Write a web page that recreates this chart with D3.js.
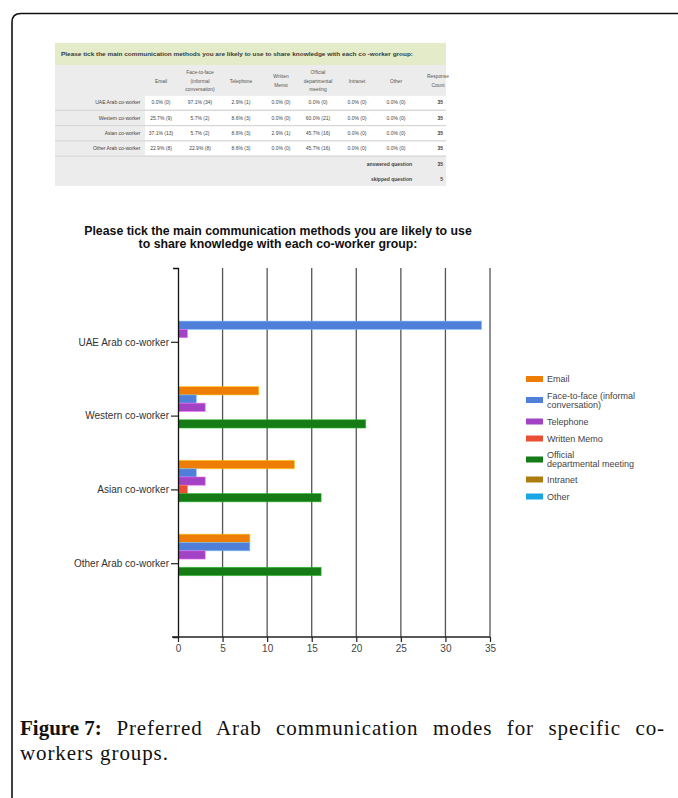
<!DOCTYPE html>
<html>
<head>
<meta charset="utf-8">
<script src="https://cdn.jsdelivr.net/npm/d3@7"></script>
<style>
  html, body { margin: 0; padding: 0; background: #fff; }
  svg { display: block; }
</style>
</head>
<body>
<svg id="chart" width="678" height="798"></svg>
<script>
// ---------------- DATA ----------------
const categories = ["UAE Arab co-worker", "Western co-worker", "Asian co-worker", "Other Arab co-worker"];
const seriesNames = ["Email", "Face-to-face (informal conversation)", "Telephone", "Written Memo",
                     "Official departmental meeting", "Intranet", "Other"];
const legendLines = [["Email"], ["Face-to-face (informal", "conversation)"], ["Telephone"], ["Written Memo"],
                     ["Official", "departmental meeting"], ["Intranet"], ["Other"]];
const tableHeaders = [["Email"], ["Face-to-face", "(informal", "conversation)"], ["Telephone"], ["Written", "Memo"],
                      ["Official", "departmental", "meeting"], ["Intranet"], ["Other"], ["Response", "Count"]];
const emailValues      = [0, 9, 13, 8];
const faceToFaceValues = [34, 2, 2, 8];
const telephoneValues  = [1, 3, 3, 3];
const memoValues       = [0, 0, 1, 0];
const officialValues   = [0, 21, 16, 16];
const intranetValues   = [0, 0, 0, 0];
const otherValues      = [0, 0, 0, 0];
const responseCounts   = [35, 35, 35, 35];
const answeredQuestion = 35;
const skippedQuestion  = 5;
const xTicks = [0, 5, 10, 15, 20, 25, 30, 35];
const tableTitle = "Please tick the main communication methods you are likely to use to share knowledge with each co -worker group:";
const chartTitle = ["Please tick the main communication methods you are likely to use",
                    "to share knowledge with each co-worker group:"];
const captionBold = "Figure 7:";
const captionLine1 = " Preferred Arab communication modes for specific co-";
const captionLine2 = "workers groups.";

const seriesValues = [emailValues, faceToFaceValues, telephoneValues, memoValues,
                      officialValues, intranetValues, otherValues];
const colors = ["#ee7d05", "#4f7fd8", "#a243c4", "#ea4f35", "#167a16", "#ad7c0e", "#1aa6e6"];

// ---------------- SVG ----------------
const svg = d3.select("#chart");
const sans = "'Liberation Sans', Arial, sans-serif";

// frame (rounded top-left corner)
svg.append("path")
  .attr("d", "M12,798 V22 Q12,13.5 21,13.5 H680")
  .attr("fill", "none").attr("stroke", "#111").attr("stroke-width", 1.6);

// ---------------- TABLE ----------------
const T = { x0: 55, x1: 446, titleY0: 43, titleY1: 65, headY1: 95, labelX1: 144, rowH: 15.3, footY1: 186 };
const colCenters = [161, 200, 241, 281, 318, 357, 396, 437];
const tg = svg.append("g");
tg.append("rect").attr("x", T.x0).attr("y", T.titleY0).attr("width", T.x1 - T.x0).attr("height", T.titleY1 - T.titleY0)
  .attr("fill", "#e3ebc9");
tg.append("rect").attr("x", T.x0).attr("y", T.titleY1).attr("width", T.x1 - T.x0).attr("height", T.footY1 - T.titleY1)
  .attr("fill", "#ececec");
tg.append("text").attr("x", 61).attr("y", 55.5).attr("font-family", sans).attr("font-size", 6.2)
  .attr("font-weight", "bold").attr("fill", "#3a3a3a").attr("textLength", 352).attr("lengthAdjust", "spacingAndGlyphs")
  .text(tableTitle);

// headers
tableHeaders.forEach((lines, i) => {
  const n = lines.length;
  lines.forEach((ln, j) => {
    tg.append("text").attr("x", colCenters[i] + (i === 7 ? 1 : 0)).attr("y", 82.5 + (j - (n - 1) / 2) * 8.7)
      .attr("text-anchor", "middle").attr("font-family", sans).attr("font-size", 4.9).attr("fill", "#555")
      .text(ln);
  });
});

// rows
const rowTop = i => T.headY1 + i * T.rowH;
categories.forEach((cat, r) => {
  const y0 = rowTop(r);
  tg.append("rect").attr("x", T.labelX1 + 1).attr("y", y0 + 0.8).attr("width", T.x1 - T.labelX1 - 1).attr("height", T.rowH - 1.6)
    .attr("fill", "#fff");
  tg.append("line").attr("x1", T.x0).attr("x2", T.x1).attr("y1", y0 + T.rowH).attr("y2", y0 + T.rowH)
    .attr("stroke", "#d4d4d4").attr("stroke-width", 1);
  tg.append("text").attr("x", 140.5).attr("y", y0 + T.rowH / 2 + 1.8).attr("text-anchor", "end")
    .attr("font-family", sans).attr("font-size", 5).attr("fill", "#444").text(cat);
  seriesValues.forEach((vals, s) => {
    const v = vals[r];
    const pct = (v / responseCounts[r] * 100).toFixed(1) + "% (" + v + ")";
    tg.append("text").attr("x", colCenters[s]).attr("y", y0 + T.rowH / 2 + 1.8).attr("text-anchor", "middle")
      .attr("font-family", sans).attr("font-size", 5).attr("fill", "#444").text(pct);
  });
  tg.append("text").attr("x", 443).attr("y", y0 + T.rowH / 2 + 1.8).attr("text-anchor", "end")
    .attr("font-family", sans).attr("font-size", 5).attr("font-weight", "bold").attr("fill", "#444").text(responseCounts[r]);
});
[["answered question", answeredQuestion, 164.5], ["skipped question", skippedQuestion, 179.5]].forEach(d => {
  tg.append("text").attr("x", 412).attr("y", d[2] + 1.8).attr("text-anchor", "end")
    .attr("font-family", sans).attr("font-size", 5).attr("font-weight", "bold").attr("fill", "#444").text(d[0]);
  tg.append("text").attr("x", 443).attr("y", d[2] + 1.8).attr("text-anchor", "end")
    .attr("font-family", sans).attr("font-size", 5).attr("font-weight", "bold").attr("fill", "#444").text(d[1]);
});

// ---------------- CHART ----------------
const plot = { left: 178, right: 490, top: 268, bottom: 637 };
const x = d3.scaleLinear().domain([0, 35]).range([plot.left, plot.right]);
const y = d3.scalePoint().domain(categories).range([plot.top, plot.bottom]).padding(1);
const groupH = y.step() * 0.785;
const inner = d3.scaleBand().domain(seriesNames).range([-groupH / 2, groupH / 2]).padding(0);

// title
chartTitle.forEach((t, i) => {
  svg.append("text").attr("x", 278).attr("y", 235 + i * 12.6).attr("text-anchor", "middle")
    .attr("font-family", sans).attr("font-size", 12.3).attr("font-weight", "bold").attr("fill", "#111").text(t);
});

// gridlines
svg.append("g").selectAll("line").data(xTicks.filter(d => d > 0)).join("line")
  .attr("x1", d => x(d)).attr("x2", d => x(d)).attr("y1", plot.top).attr("y2", plot.bottom)
  .attr("stroke", "#555").attr("stroke-width", 1.3);

// bars
const bars = [];
categories.forEach((cat, ci) => {
  seriesNames.forEach((s, si) => {
    bars.push({ cat, s, si, v: seriesValues[si][ci] });
  });
});
svg.append("g").selectAll("rect").data(bars.filter(d => d.v > 0)).join("rect")
  .attr("x", x(0) + 0.5)
  .attr("y", d => y(d.cat) + inner(d.s))
  .attr("width", d => x(d.v) - x(0))
  .attr("height", inner.bandwidth())
  .attr("fill", d => colors[d.si])
  .attr("stroke", d => d3.color(colors[d.si]).brighter(1.2).copy({ opacity: 0.6 }))
  .attr("stroke-width", 0.9);

// y axis
const yAxis = svg.append("g").attr("transform", `translate(${plot.left},0)`)
  .call(d3.axisLeft(y).tickSize(7).tickSizeOuter(5).tickPadding(2));
yAxis.select(".domain").attr("stroke", "#111").attr("stroke-width", 1.3);
yAxis.selectAll(".tick line").attr("stroke", "#222").attr("stroke-width", 1.2);
yAxis.selectAll("text").attr("font-family", sans).attr("font-size", 10).attr("fill", "#333");

// x axis
const xAxis = svg.append("g").attr("transform", `translate(0,${plot.bottom})`)
  .call(d3.axisBottom(x).tickValues(xTicks).tickSize(5).tickSizeOuter(0).tickPadding(3));
xAxis.select(".domain").attr("d", `M${plot.left - 6},0H${plot.right}`).attr("stroke", "#222").attr("stroke-width", 1.3);
xAxis.selectAll(".tick line").attr("stroke", "#222").attr("stroke-width", 1.2);
xAxis.selectAll("text").attr("font-family", sans).attr("font-size", 10).attr("fill", "#444");

// legend
const lg = svg.append("g");
const legendY = [379, 400, 421.5, 438.5, 459.5, 479.5, 496.5];
legendLines.forEach((lines, i) => {
  const cy = legendY[i];
  lg.append("rect").attr("x", 526).attr("y", cy - 3).attr("width", 17).attr("height", 6).attr("fill", colors[i]);
  lines.forEach((ln, j) => {
    lg.append("text").attr("x", 547).attr("y", cy + 3.2 + (j - (lines.length - 1) / 2) * 9)
      .attr("font-family", sans).attr("font-size", 9).attr("fill", "#444").text(ln);
  });
});

// ---------------- CAPTION ----------------
const serif = "'Liberation Serif', 'Times New Roman', serif";
const cap = svg.append("text").attr("x", 20).attr("y", 735).attr("font-family", serif).attr("font-size", 21)
  .attr("fill", "#111");
cap.append("tspan").attr("font-weight", "bold").text(captionBold);
const restSpan = cap.append("tspan").attr("letter-spacing", 0.9).text(captionLine1);
const natural = cap.node().getComputedTextLength();
const spaces = captionLine1.split(" ").length - 1;
restSpan.attr("word-spacing", Math.max(0, (645 - natural) / spaces));
svg.append("text").attr("x", 20).attr("y", 760).attr("font-family", serif).attr("font-size", 21)
  .attr("letter-spacing", 0.9).attr("fill", "#111")
  .text(captionLine2);
</script>
</body>
</html>
